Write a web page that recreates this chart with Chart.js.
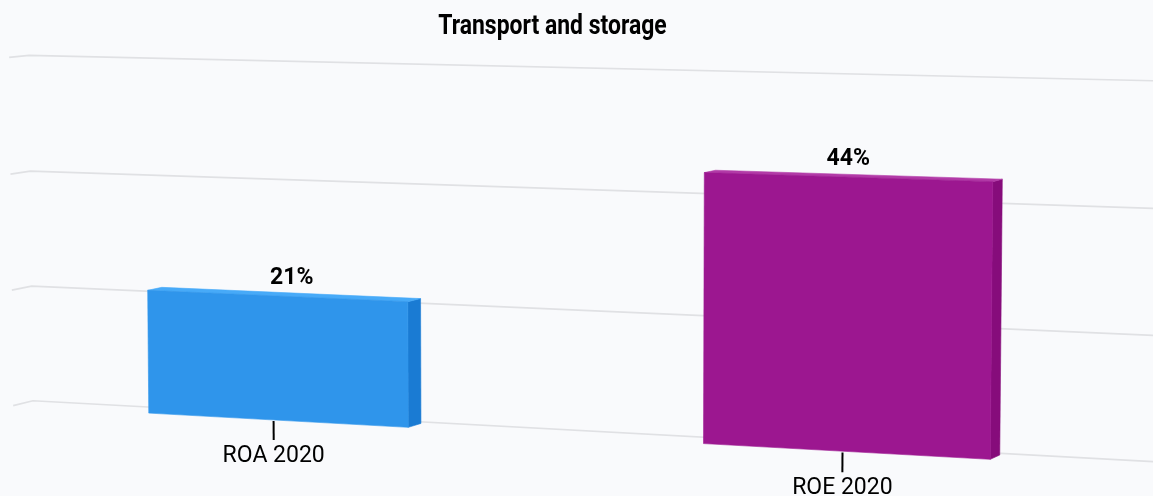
<!DOCTYPE html>
<html>
<head>
<meta charset="utf-8">
<script src="https://cdn.jsdelivr.net/npm/chart.js@4.4.0/dist/chart.umd.min.js"></script>
<style>
  html, body { margin: 0; padding: 0; background: #f9fafc; }
  #wrap { width: 1153px; height: 496px; }
</style>
</head>
<body>
<div id="wrap"><canvas id="chart"></canvas></div>
<script>
// data
const chartTitle = 'Transport and storage';
const categories = ['ROA 2020', 'ROE 2020'];
const values = [21, 44];
const gridValues = [0, 20, 40, 60];

const faceColors = {
  front: ['#2f95eb', '#9c1790'],
  top: ['#47aaf8', '#b23aa7'],
  side: ['#1a7bd3', '#860c7b']
};

// 3D view: the flat chart area is turned into a box of width x height x depth
const view = {
  alpha: 5.5, beta: 22, distance: 4573,
  width: 1225, height: 365.6, depth: 43,
  barDepth: 32, tickLen: 19.5, tickAhead: 8,
  cx: 562, cy: 251.4
};

const rad = Math.PI / 180;
const sA = Math.sin(view.alpha * rad), cA = Math.cos(view.alpha * rad);
const sB = Math.sin(view.beta * rad), cB = Math.cos(view.beta * rad);

function project(X, Y, Z) {
  const x = cB * X + sB * Z;
  const y = sA * sB * X + cA * Y - cB * sA * Z;
  const z = -cA * sB * X + sA * Y + cA * cB * Z;
  const p = view.distance / (view.distance + z);
  return { x: view.cx + x * p, y: view.cy + y * p };
}

function fillPoly(ctx, pts, color) {
  ctx.beginPath();
  pts.forEach((p, i) => i ? ctx.lineTo(p.x, p.y) : ctx.moveTo(p.x, p.y));
  ctx.closePath();
  ctx.fillStyle = color;
  ctx.fill();
  ctx.strokeStyle = color;
  ctx.lineWidth = 0.6;
  ctx.stroke();
}

const perspective3d = {
  id: 'perspective3d',
  afterDraw(chart) {
    const { ctx, chartArea: ca } = chart;
    const xs = chart.scales.x, ys = chart.scales.y;
    const midX = (ca.left + ca.right) / 2, midY = (ca.top + ca.bottom) / 2;
    const kx = view.width / (ca.right - ca.left);
    const ky = view.height / (ca.bottom - ca.top);
    const toX = px => (px - midX) * kx;
    const toY = py => (py - midY) * ky;
    const P = (px, py, z) => project(toX(px), toY(py), z);
    const front = -view.depth / 2, back = view.depth / 2;

    ctx.save();

    // condensed bold title (no condensed face installed, so squeeze Roboto)
    ctx.save();
    ctx.translate(552.5, 33.5);
    ctx.scale(0.85, 1);
    ctx.fillStyle = '#000';
    ctx.font = 'bold 27px Roboto, sans-serif';
    ctx.textAlign = 'center';
    ctx.textBaseline = 'alphabetic';
    ctx.fillText(chartTitle, 0, 0);
    ctx.restore();

    // grid lines on the back wall and the left side wall
    ctx.strokeStyle = '#e0e1e4';
    ctx.lineWidth = 1.7;
    gridValues.forEach(v => {
      const py = ys.getPixelForValue(v);
      const a = P(ca.left, py, front), b = P(ca.left, py, back), c = P(ca.right, py, back);
      ctx.beginPath();
      ctx.moveTo(a.x, a.y);
      ctx.lineTo(b.x, b.y);
      ctx.lineTo(c.x, c.y);
      ctx.stroke();
    });

    // columns
    const meta = chart.getDatasetMeta(0);
    const z0 = front, z1 = front + view.barDepth;
    meta.data.forEach((bar, i) => {
      const { x, y, base, width } = bar.getProps(['x', 'y', 'base', 'width'], true);
      const l = x - width / 2, r = x + width / 2;
      fillPoly(ctx, [P(r, y, z0), P(r, y, z1), P(r, base, z1), P(r, base, z0)], faceColors.side[i]);
      fillPoly(ctx, [P(l, y, z0), P(r, y, z0), P(r, y, z1), P(l, y, z1)], faceColors.top[i]);
      fillPoly(ctx, [P(l, y, z0), P(r, y, z0), P(r, base, z0), P(l, base, z0)], faceColors.front[i]);

      // value label above the column, pulled a little toward the middle
      const mid = P(x, y, front + view.barDepth / 2);
      const edge = P(x, y, front);
      const lx = 683 + (mid.x - 683) * 0.978;
      ctx.fillStyle = '#000';
      ctx.font = 'bold 23px Roboto, sans-serif';
      ctx.textAlign = 'center';
      ctx.textBaseline = 'alphabetic';
      ctx.fillText(values[i] + '%', lx, edge.y - 12);
    });

    // category ticks and labels
    categories.forEach((cat, i) => {
      const px = xs.getPixelForValue(i);
      const zt = front - view.tickAhead;
      const a = project(toX(px), toY(ca.bottom), zt);
      const b = project(toX(px), toY(ca.bottom) + view.tickLen, zt);
      ctx.strokeStyle = '#000';
      ctx.lineWidth = 2;
      ctx.beginPath();
      ctx.moveTo(a.x, a.y);
      ctx.lineTo(b.x, b.y);
      ctx.stroke();
      ctx.fillStyle = '#000';
      ctx.font = '23px Roboto, sans-serif';
      ctx.textAlign = 'center';
      ctx.textBaseline = 'alphabetic';
      ctx.fillText(cat, b.x, b.y + 21.5);
    });

    ctx.restore();
  }
};

new Chart(document.getElementById('chart'), {
  type: 'bar',
  data: {
    labels: categories,
    datasets: [{
      data: values,
      backgroundColor: 'rgba(0,0,0,0)',
      borderWidth: 0,
      categoryPercentage: 0.8,
      barPercentage: 0.6
    }]
  },
  options: {
    responsive: true,
    maintainAspectRatio: false,
    animation: false,
    layout: { padding: { top: 50, right: 48, bottom: 100 } },
    plugins: {
      legend: { display: false },
      tooltip: { enabled: false },
      title: { display: false }
    },
    scales: {
      x: { display: false },
      y: { display: false, min: 0, max: 60 }
    }
  },
  plugins: [perspective3d]
});
</script>
</body>
</html>
